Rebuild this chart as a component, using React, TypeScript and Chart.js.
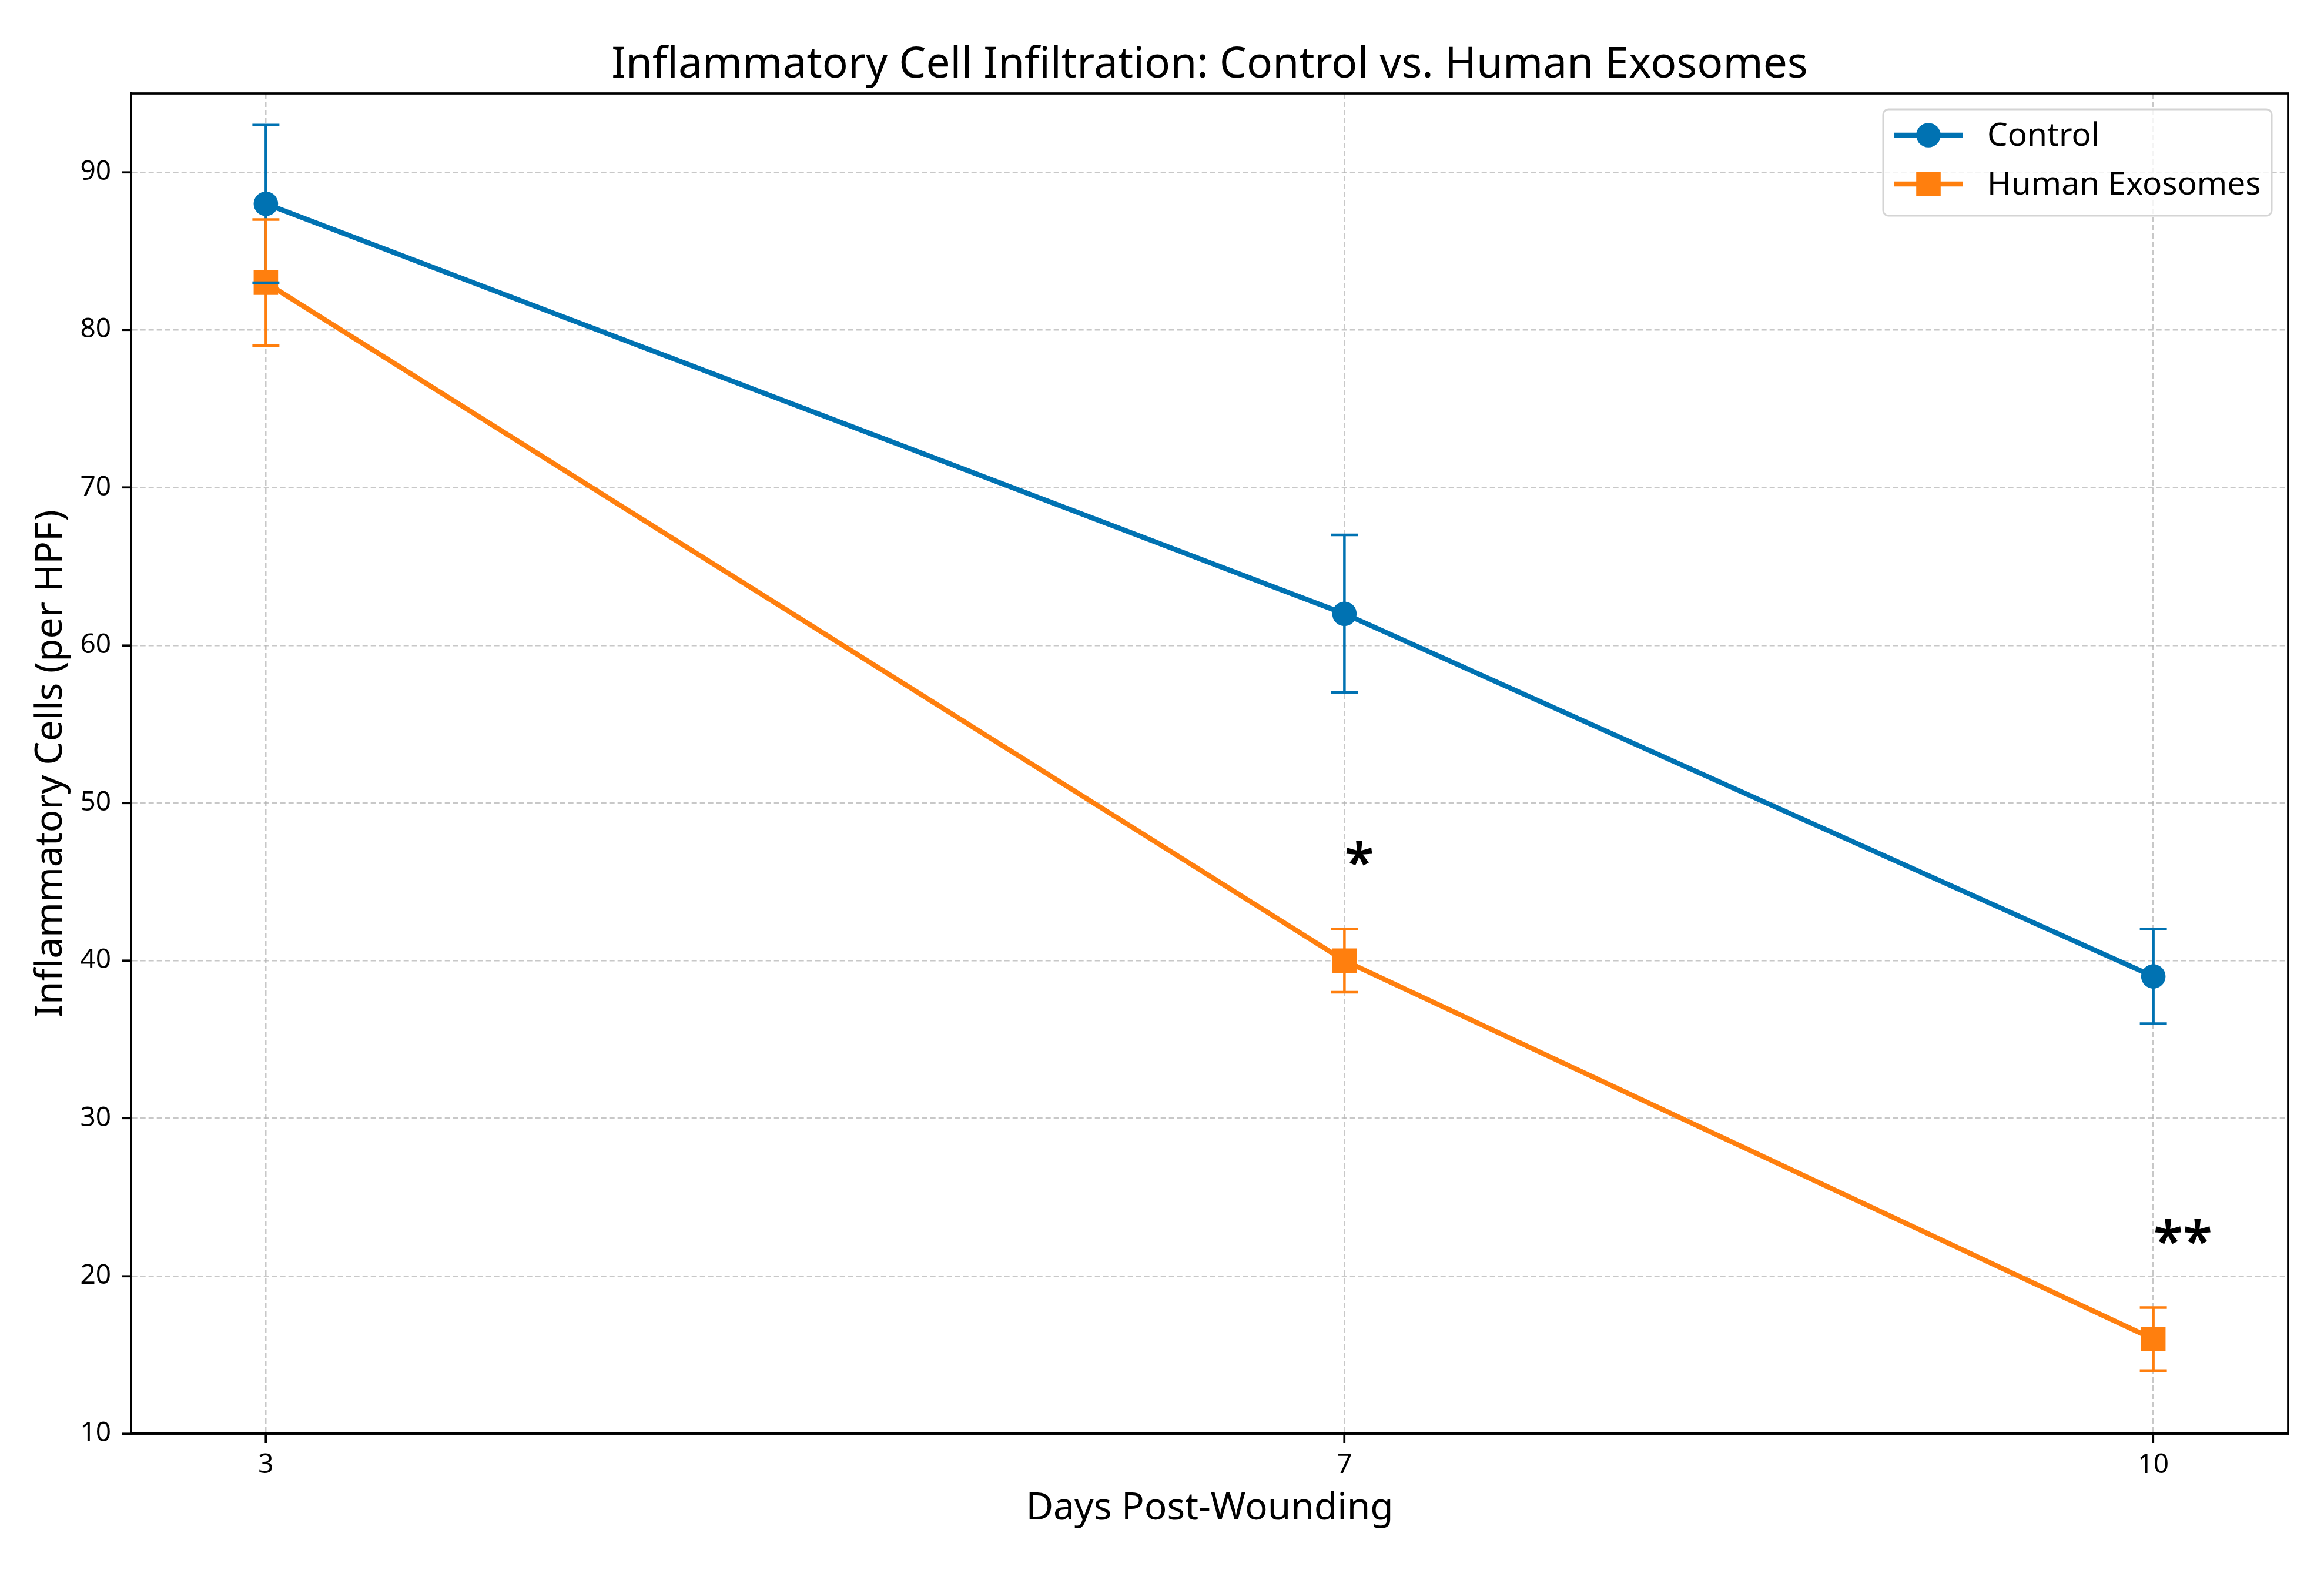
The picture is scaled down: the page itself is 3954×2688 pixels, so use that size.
import React, { useEffect, useRef } from 'react';
import { Chart, registerables, Plugin } from 'chart.js';

Chart.register(...registerables);

// data
const days = [3, 7, 10];
const dayTicks = [3, 7, 10];
const valueTicks = [10, 20, 30, 40, 50, 60, 70, 80, 90];
const controlMean = [88, 62, 39];
const controlErr = [5, 5, 3];
const exosomeMean = [83, 40, 16];
const exosomeErr = [4, 2, 2];
const significance = ['', '*', '**'];
const seriesNames = ['Control', 'Human Exosomes'];

const STAR_OFFSET = 3; // y units above the exosome error bar

const BLUE = '#0072b2';
const ORANGE = '#ff7f0e';
const FONT = '"Noto Sans", "Open Sans", sans-serif';

const series = [
  { mean: controlMean, err: controlErr, color: BLUE },
  { mean: exosomeMean, err: exosomeErr, color: ORANGE },
];

const drawErrorBars = (chart: Chart, part: 'bars' | 'caps') => {
  const { ctx } = chart;
  const xs = chart.scales.x;
  const ys = chart.scales.y;
  ctx.save();
  ctx.lineWidth = 4.5;
  series.forEach((s) => {
    ctx.strokeStyle = s.color;
    days.forEach((d, i) => {
      const px = xs.getPixelForValue(d);
      const lo = ys.getPixelForValue(s.mean[i] - s.err[i]);
      const hi = ys.getPixelForValue(s.mean[i] + s.err[i]);
      ctx.beginPath();
      if (part === 'bars') {
        ctx.moveTo(px, lo);
        ctx.lineTo(px, hi);
      } else {
        ctx.moveTo(px - 23, lo);
        ctx.lineTo(px + 23, lo);
        ctx.moveTo(px - 23, hi);
        ctx.lineTo(px + 23, hi);
      }
      ctx.stroke();
    });
  });
  ctx.restore();
};

const errorBars: Plugin<'line'> = {
  id: 'errorBars',
  beforeDatasetsDraw(chart) {
    drawErrorBars(chart as unknown as Chart, 'bars');
  },
  afterDatasetsDraw(chart) {
    drawErrorBars(chart as unknown as Chart, 'caps');
  },
};

const stars: Plugin<'line'> = {
  id: 'stars',
  afterDatasetsDraw(chart) {
    const { ctx } = chart;
    const xs = chart.scales.x;
    const ys = chart.scales.y;
    ctx.save();
    ctx.fillStyle = '#000';
    ctx.font = `600 92px ${FONT}`;
    ctx.textAlign = 'left';
    ctx.textBaseline = 'alphabetic';
    significance.forEach((label, i) => {
      if (!label) return;
      const px = xs.getPixelForValue(days[i]);
      const py = ys.getPixelForValue(exosomeMean[i] + exosomeErr[i] + STAR_OFFSET);
      ctx.fillText(label, px, py);
    });
    ctx.restore();
  },
};

const frameAndText: Plugin<'line'> = {
  id: 'frameAndText',
  afterDraw(chart) {
    const { ctx, chartArea: a } = chart;
    ctx.save();

    // full axes frame
    ctx.strokeStyle = '#000';
    ctx.lineWidth = 3.7;
    ctx.strokeRect(a.left, a.top, a.right - a.left, a.bottom - a.top);

    const cx = (a.left + a.right) / 2;
    ctx.fillStyle = '#000';
    ctx.textAlign = 'center';
    ctx.textBaseline = 'alphabetic';

    ctx.font = `73px ${FONT}`;
    ctx.fillText('Inflammatory Cell Infiltration: Control vs. Human Exosomes', cx, 132);

    ctx.font = `64px ${FONT}`;
    ctx.fillText('Days Post-Wounding', cx, 2585);

    ctx.save();
    ctx.translate(105, (a.top + a.bottom) / 2);
    ctx.rotate(-Math.PI / 2);
    ctx.fillText('Inflammatory Cells (per HPF)', 0, 0);
    ctx.restore();

    // legend
    const w = 661;
    const h = 181;
    const left = a.right - 28 - w;
    const top = a.top + 27;
    ctx.beginPath();
    ctx.roundRect(left, top, w, h, 9);
    ctx.fillStyle = 'rgba(255,255,255,0.8)';
    ctx.fill();
    ctx.strokeStyle = '#d4d4d4';
    ctx.lineWidth = 3;
    ctx.stroke();

    ctx.font = `55px ${FONT}`;
    ctx.textAlign = 'left';
    ctx.textBaseline = 'middle';
    seriesNames.forEach((name, i) => {
      const rowY = top + 44 + i * 83;
      const color = series[i].color;
      ctx.strokeStyle = color;
      ctx.lineWidth = 8.5;
      ctx.beginPath();
      ctx.moveTo(left + 18, rowY);
      ctx.lineTo(left + 136, rowY);
      ctx.stroke();
      ctx.fillStyle = color;
      const mx = left + 77;
      if (i === 0) {
        ctx.beginPath();
        ctx.arc(mx, rowY, 20.8, 0, Math.PI * 2);
        ctx.fill();
      } else {
        ctx.fillRect(mx - 20.8, rowY - 20.8, 41.6, 41.6);
      }
      ctx.fillStyle = '#000';
      ctx.fillText(name, left + 177, rowY + 2);
    });

    ctx.restore();
  },
};

const App: React.FC = () => {
  const canvasRef = useRef<HTMLCanvasElement>(null);

  useEffect(() => {
    document.body.style.margin = '0';
    document.body.style.overflow = 'hidden';
    if (!canvasRef.current) return;

    const gridColor = 'rgba(176, 176, 176, 0.7)';
    const tickFont = { family: FONT, size: 46 };

    const chart = new Chart(canvasRef.current, {
      type: 'line',
      data: {
        datasets: [
          {
            label: seriesNames[0],
            data: days.map((d, i) => ({ x: d, y: controlMean[i] })),
            borderColor: BLUE,
            backgroundColor: BLUE,
            borderWidth: 8.5,
            pointStyle: 'circle',
            pointRadius: 20.8,
            pointBorderWidth: 0,
            pointHoverRadius: 20.8,
          },
          {
            label: seriesNames[1],
            data: days.map((d, i) => ({ x: d, y: exosomeMean[i] })),
            borderColor: ORANGE,
            backgroundColor: ORANGE,
            borderWidth: 8.5,
            pointStyle: 'rect',
            pointRadius: 29.4,
            pointBorderWidth: 0,
            pointHoverRadius: 29.4,
          },
        ],
      },
      options: {
        animation: false,
        responsive: true,
        maintainAspectRatio: false,
        devicePixelRatio: 1,
        layout: { padding: { top: 159, right: 61, left: 0, bottom: 0 } },
        plugins: {
          legend: { display: false },
          title: { display: false },
          tooltip: { enabled: false },
        },
        scales: {
          x: {
            type: 'linear',
            min: 2.5,
            max: 10.5,
            afterBuildTicks: (scale) => {
              scale.ticks = dayTicks.map((v) => ({ value: v }));
            },
            afterFit: (scale) => {
              scale.height = 249;
            },
            grid: {
              color: gridColor,
              lineWidth: 2.5,
              drawTicks: true,
              tickLength: 16,
              tickColor: '#000',
              tickWidth: 3.7,
            },
            border: { display: true, color: '#000', width: 3.7, dash: [9, 5] },
            ticks: {
              color: '#000',
              font: tickFont,
              padding: 10,
              maxRotation: 0,
              autoSkip: false,
            },
          },
          y: {
            type: 'linear',
            min: 10,
            max: 95,
            afterBuildTicks: (scale) => {
              scale.ticks = valueTicks.map((v) => ({ value: v }));
            },
            afterFit: (scale) => {
              scale.width = 223;
            },
            grid: {
              color: gridColor,
              lineWidth: 2.5,
              drawTicks: true,
              tickLength: 16,
              tickColor: '#000',
              tickWidth: 3.7,
            },
            border: { display: true, color: '#000', width: 3.7, dash: [9, 5] },
            ticks: {
              color: '#000',
              font: tickFont,
              padding: 18,
              autoSkip: false,
            },
          },
        },
      },
      plugins: [errorBars, stars, frameAndText],
    });

    return () => {
      chart.destroy();
    };
  }, []);

  return (
    <div style={{ position: 'relative', width: '3954px', height: '2688px', background: '#fff' }}>
      <canvas ref={canvasRef} />
    </div>
  );
};

export default App;
